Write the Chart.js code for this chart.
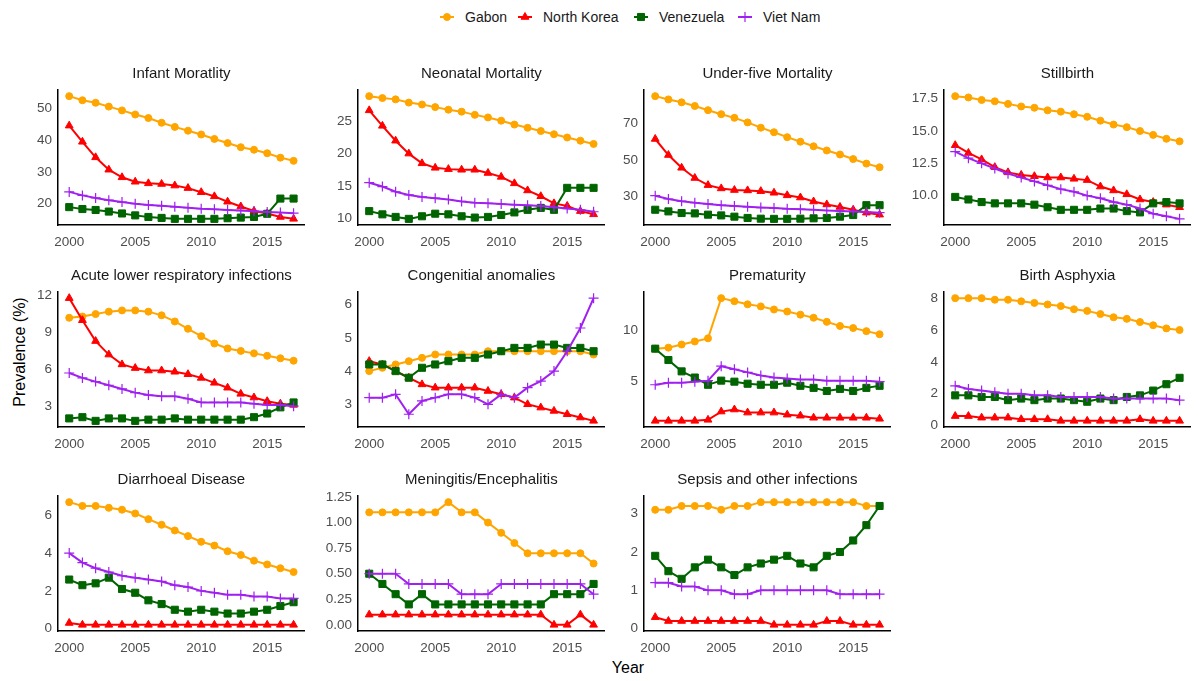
<!DOCTYPE html>
<html>
<head>
<meta charset="utf-8">
<script src="https://cdn.jsdelivr.net/npm/chart.js@4.4.0/dist/chart.umd.min.js"></script>
<style>
  body { margin: 0; width: 1198px; height: 681px; background: #fff; position: relative; overflow: hidden;
         font-family: "Liberation Sans", Arial, sans-serif; }
  .panel { position: absolute; }
  .leg-icon { position: absolute; top: 10px; }
  .leg-text { position: absolute; top: 9px; font-size: 14px; color: #1a1a1a; line-height: 16px; }
  #ylab { position: absolute; left: 20px; top: 352px; transform: translate(-50%, -50%) rotate(-90deg);
          font-size: 16px; color: #000; white-space: nowrap; }
  #xlab { position: absolute; left: 628px; top: 668px; transform: translate(-50%, -50%);
          font-size: 16px; color: #000; }
</style>
</head>
<body>
<div id="ylab">Prevalence (%)</div>
<div id="xlab">Year</div>
<script>
const years = [2000, 2001, 2002, 2003, 2004, 2005, 2006, 2007, 2008, 2009,
               2010, 2011, 2012, 2013, 2014, 2015, 2016, 2017];
const countries = ["Gabon", "North Korea", "Venezuela", "Viet Nam"];
const xTickLabels = ["2000", "2005", "2010", "2015"];

// each panel: one row per country, same order as countries
const infantMortality = [
  [53.9, 52.6, 51.8, 50.6, 49.4, 48.1, 47.0, 45.5, 44.2, 43.0, 41.8, 40.4, 39.1, 37.8, 37.0, 35.9, 34.5, 33.5],
  [44.6, 39.5, 34.6, 30.7, 28.3, 26.9, 26.4, 26.2, 25.7, 24.9, 23.6, 22.3, 20.6, 19.1, 17.7, 16.9, 15.8, 15.2],
  [18.9, 18.3, 18.0, 17.5, 16.9, 16.3, 15.8, 15.5, 15.2, 15.2, 15.2, 15.2, 15.4, 15.6, 15.8, 16.8, 21.6, 21.6],
  [23.7, 22.6, 21.8, 21.1, 20.5, 20.0, 19.6, 19.3, 19.0, 18.7, 18.4, 18.2, 18.0, 17.8, 17.6, 17.4, 17.2, 17.0]
];
const infantTicks = ["20", "30", "40", "50"];

const neonatalMortality = [
  [28.9, 28.6, 28.4, 27.9, 27.6, 27.2, 26.8, 26.5, 26.0, 25.6, 25.1, 24.5, 24.0, 23.5, 23.0, 22.5, 22.0, 21.5],
  [26.7, 24.3, 22.0, 20.0, 18.5, 17.8, 17.6, 17.5, 17.5, 17.0, 16.4, 15.4, 14.3, 13.4, 12.3, 11.9, 11.1, 10.6],
  [11.1, 10.6, 10.2, 9.9, 10.3, 10.7, 10.6, 10.3, 10.1, 10.2, 10.5, 10.9, 11.3, 11.6, 11.3, 14.7, 14.7, 14.7],
  [15.5, 14.9, 14.1, 13.6, 13.3, 13.1, 12.9, 12.6, 12.4, 12.3, 12.2, 12.1, 12.0, 11.9, 11.7, 11.5, 11.3, 11.0]
];
const neonatalTicks = ["10", "15", "20", "25"];

const underFiveMortality = [
  [85.1, 83.3, 81.7, 79.7, 77.4, 75.2, 73.2, 70.7, 67.8, 65.3, 62.6, 60.1, 57.6, 55.3, 53.1, 50.6, 48.1, 46.1],
  [61.6, 52.8, 45.8, 40.2, 36.3, 34.5, 33.6, 33.4, 33.0, 32.1, 30.7, 29.5, 27.3, 25.7, 24.3, 22.8, 21.2, 20.1],
  [22.8, 21.9, 21.0, 20.8, 20.1, 19.7, 19.0, 18.3, 17.9, 17.8, 17.8, 17.9, 18.1, 18.3, 19.0, 19.9, 25.3, 25.3],
  [30.5, 28.7, 27.5, 26.7, 26.0, 25.3, 24.8, 24.4, 24.0, 23.7, 23.3, 23.1, 22.8, 22.4, 22.1, 21.9, 21.5, 21.2]
];
const underFiveTicks = ["30", "50", "70"];

const stillbirth = [
  [17.7, 17.6, 17.4, 17.3, 17.1, 16.9, 16.8, 16.6, 16.5, 16.3, 16.1, 15.8, 15.5, 15.3, 15.0, 14.7, 14.4, 14.2],
  [13.9, 13.3, 12.8, 12.2, 11.8, 11.6, 11.5, 11.4, 11.4, 11.3, 11.2, 10.7, 10.4, 10.1, 9.7, 9.5, 9.3, 9.1],
  [9.9, 9.7, 9.5, 9.4, 9.4, 9.4, 9.3, 9.1, 8.9, 8.9, 8.9, 9.0, 9.0, 8.8, 8.7, 9.4, 9.5, 9.4],
  [13.4, 12.9, 12.5, 12.1, 11.7, 11.4, 11.1, 10.8, 10.5, 10.3, 10.0, 9.8, 9.5, 9.3, 9.0, 8.6, 8.4, 8.2]
];
const stillbirthTicks = ["10.0", "12.5", "15.0", "17.5"];

const acuteLowerResp = [
  [10.2, 10.3, 10.5, 10.7, 10.8, 10.8, 10.7, 10.4, 9.9, 9.3, 8.7, 8.1, 7.7, 7.5, 7.3, 7.1, 6.9, 6.7],
  [11.8, 10.0, 8.3, 7.2, 6.4, 6.1, 5.9, 5.9, 5.8, 5.6, 5.3, 4.9, 4.5, 4.0, 3.7, 3.4, 3.2, 3.1],
  [2.0, 2.1, 1.8, 2.0, 2.0, 1.8, 1.9, 1.9, 2.0, 1.9, 1.9, 1.9, 1.9, 1.9, 2.1, 2.4, 2.9, 3.3],
  [5.7, 5.3, 5.0, 4.7, 4.4, 4.1, 3.9, 3.8, 3.8, 3.6, 3.3, 3.3, 3.3, 3.3, 3.2, 3.1, 3.1, 3.0]
];
const acuteLowerRespTicks = ["3", "6", "9", "12"];

const congenital = [
  [4.0, 4.1, 4.2, 4.3, 4.4, 4.5, 4.5, 4.5, 4.5, 4.6, 4.6, 4.6, 4.6, 4.6, 4.6, 4.6, 4.6, 4.5],
  [4.3, 4.2, 4.0, 3.8, 3.6, 3.5, 3.5, 3.5, 3.5, 3.4, 3.3, 3.2, 3.0, 2.9, 2.8, 2.7, 2.6, 2.5],
  [4.2, 4.2, 4.0, 3.8, 4.1, 4.2, 4.3, 4.4, 4.4, 4.5, 4.6, 4.7, 4.7, 4.8, 4.8, 4.7, 4.7, 4.6],
  [3.2, 3.2, 3.3, 2.7, 3.1, 3.2, 3.3, 3.3, 3.2, 3.0, 3.3, 3.2, 3.5, 3.7, 4.0, 4.6, 5.3, 6.2]
];
const congenitalTicks = ["3", "4", "5", "6"];

const prematurity = [
  [8.2, 8.3, 8.6, 8.9, 9.2, 13.1, 12.8, 12.5, 12.3, 12.0, 11.8, 11.5, 11.2, 10.8, 10.4, 10.2, 9.9, 9.6],
  [1.2, 1.2, 1.2, 1.2, 1.3, 2.1, 2.3, 2.0, 2.0, 2.0, 1.8, 1.7, 1.5, 1.5, 1.5, 1.5, 1.5, 1.4],
  [8.2, 7.1, 6.0, 5.4, 4.7, 5.1, 5.0, 4.8, 4.7, 4.7, 4.9, 4.6, 4.4, 4.1, 4.3, 4.1, 4.4, 4.6],
  [4.7, 4.9, 4.9, 5.0, 5.1, 6.5, 6.2, 5.9, 5.6, 5.4, 5.3, 5.2, 5.2, 5.1, 5.1, 5.1, 5.1, 5.0]
];
const prematurityTicks = ["5", "10"];

const birthAsphyxia = [
  [8.0, 8.0, 8.0, 7.9, 7.9, 7.8, 7.7, 7.6, 7.5, 7.3, 7.2, 7.0, 6.8, 6.7, 6.5, 6.3, 6.1, 6.0],
  [0.6, 0.6, 0.5, 0.5, 0.5, 0.4, 0.4, 0.4, 0.3, 0.3, 0.3, 0.3, 0.3, 0.3, 0.4, 0.3, 0.3, 0.3],
  [1.9, 1.9, 1.8, 1.8, 1.6, 1.7, 1.6, 1.7, 1.7, 1.6, 1.5, 1.7, 1.6, 1.8, 1.9, 2.2, 2.6, 3.0],
  [2.5, 2.3, 2.2, 2.1, 2.0, 2.0, 1.9, 1.9, 1.8, 1.8, 1.8, 1.8, 1.7, 1.7, 1.7, 1.7, 1.7, 1.6]
];
const birthAsphyxiaTicks = ["0", "2", "4", "6", "8"];

const diarrhoeal = [
  [6.7, 6.5, 6.5, 6.4, 6.3, 6.1, 5.8, 5.5, 5.2, 4.9, 4.6, 4.4, 4.1, 3.9, 3.6, 3.4, 3.2, 3.0],
  [0.3, 0.2, 0.2, 0.2, 0.2, 0.2, 0.2, 0.2, 0.2, 0.2, 0.2, 0.2, 0.2, 0.2, 0.2, 0.2, 0.2, 0.2],
  [2.6, 2.3, 2.4, 2.7, 2.1, 1.9, 1.5, 1.3, 1.0, 0.9, 1.0, 0.9, 0.8, 0.8, 0.9, 1.0, 1.2, 1.4],
  [4.0, 3.5, 3.2, 3.0, 2.8, 2.7, 2.6, 2.5, 2.3, 2.2, 2.0, 1.9, 1.8, 1.8, 1.7, 1.7, 1.6, 1.6]
];
const diarrhoealTicks = ["0", "2", "4", "6"];

const meningitis = [
  [1.1, 1.1, 1.1, 1.1, 1.1, 1.1, 1.2, 1.1, 1.1, 1.0, 0.9, 0.8, 0.7, 0.7, 0.7, 0.7, 0.7, 0.6],
  [0.1, 0.1, 0.1, 0.1, 0.1, 0.1, 0.1, 0.1, 0.1, 0.1, 0.1, 0.1, 0.1, 0.1, 0.0, 0.0, 0.1, 0.0],
  [0.5, 0.4, 0.3, 0.2, 0.3, 0.2, 0.2, 0.2, 0.2, 0.2, 0.2, 0.2, 0.2, 0.2, 0.3, 0.3, 0.3, 0.4],
  [0.5, 0.5, 0.5, 0.4, 0.4, 0.4, 0.4, 0.3, 0.3, 0.3, 0.4, 0.4, 0.4, 0.4, 0.4, 0.4, 0.4, 0.3]
];
const meningitisTicks = ["0.00", "0.25", "0.50", "0.75", "1.00", "1.25"];

const sepsis = [
  [3.1, 3.1, 3.2, 3.2, 3.2, 3.1, 3.2, 3.2, 3.3, 3.3, 3.3, 3.3, 3.3, 3.3, 3.3, 3.3, 3.2, 3.2],
  [0.3, 0.2, 0.2, 0.2, 0.2, 0.2, 0.2, 0.2, 0.2, 0.1, 0.1, 0.1, 0.1, 0.2, 0.2, 0.1, 0.1, 0.1],
  [1.9, 1.5, 1.3, 1.6, 1.8, 1.6, 1.4, 1.6, 1.7, 1.8, 1.9, 1.7, 1.6, 1.9, 2.0, 2.3, 2.7, 3.2],
  [1.2, 1.2, 1.1, 1.1, 1.0, 1.0, 0.9, 0.9, 1.0, 1.0, 1.0, 1.0, 1.0, 1.0, 0.9, 0.9, 0.9, 0.9]
];
const sepsisTicks = ["0", "1", "2", "3"];

const panels = [
  { title: "Infant Moratlity", series: infantMortality, ticks: infantTicks },
  { title: "Neonatal Mortality", series: neonatalMortality, ticks: neonatalTicks },
  { title: "Under-five Mortality", series: underFiveMortality, ticks: underFiveTicks },
  { title: "Stillbirth", series: stillbirth, ticks: stillbirthTicks },
  { title: "Acute lower respiratory infections", series: acuteLowerResp, ticks: acuteLowerRespTicks },
  { title: "Congenitial anomalies", series: congenital, ticks: congenitalTicks },
  { title: "Prematurity", series: prematurity, ticks: prematurityTicks },
  { title: "Birth Asphyxia", series: birthAsphyxia, ticks: birthAsphyxiaTicks },
  { title: "Diarrhoeal Disease", series: diarrhoeal, ticks: diarrhoealTicks },
  { title: "Meningitis/Encephalitis", series: meningitis, ticks: meningitisTicks },
  { title: "Sepsis and other infections", series: sepsis, ticks: sepsisTicks }
];

// look
const colors = ["#FFA500", "#FF0000", "#006400", "#A020F0"];
const shapes = ["circle", "triangle", "rect", "cross"];
const radii = [3.5, 4.5, 5, 5];
const font = "'Liberation Sans', Arial, sans-serif";

// layout (px)
const plotLeft = [58, 357.5, 644, 944];
const plotTop = [90, 292, 496];
const plotW = 253, plotH = 135;
const YW = 45, TH = 25, XH = 28;

function makePanel(p, idx) {
  const col = idx % 4, row = Math.floor(idx / 4);
  const canvas = document.createElement("canvas");
  canvas.className = "panel";
  canvas.width = YW + plotW;
  canvas.height = TH + plotH + XH;
  canvas.style.left = (plotLeft[col] - YW) + "px";
  canvas.style.top = (plotTop[row] - TH) + "px";
  document.body.appendChild(canvas);

  const all = p.series.flat();
  const lo = Math.min(...all), hi = Math.max(...all);
  const pad = (hi - lo) * 0.05;
  const xPad = (years[years.length - 1] - years[0]) * 0.05;

  new Chart(canvas, {
    type: "line",
    data: {
      datasets: countries.map((c, i) => ({
        label: c,
        data: years.map((y, j) => ({ x: y, y: p.series[i][j] })),
        borderColor: colors[i],
        backgroundColor: colors[i],
        borderWidth: 2,
        pointStyle: shapes[i],
        pointRadius: radii[i],
        pointBorderWidth: i === 3 ? 1.2 : 1,
        tension: 0,
        clip: false,
        order: 4 - i
      }))
    },
    options: {
      responsive: false,
      animation: false,
      layout: { padding: 0 },
      plugins: {
        legend: { display: false },
        tooltip: { enabled: false },
        title: {
          display: true, text: p.title, color: "#1a1a1a", fullSize: false,
          font: { family: font, size: 15, weight: "normal", lineHeight: 1.2 },
          padding: { top: 0, bottom: 7 }
        }
      },
      scales: {
        x: {
          type: "linear",
          min: years[0] - xPad,
          max: years[years.length - 1] + xPad,
          grid: { display: false, drawTicks: false },
          border: { display: true, color: "#000", width: 1.5 },
          ticks: {
            color: "#4d4d4d", padding: 9,
            font: { family: font, size: 13.5 },
            callback: (v, i) => xTickLabels[i]
          },
          afterBuildTicks: s => { s.ticks = xTickLabels.map(t => ({ value: +t })); },
          afterFit: s => { s.height = XH; }
        },
        y: {
          min: lo - pad,
          max: hi + pad,
          grid: { display: false, drawTicks: false },
          border: { display: true, color: "#000", width: 1.5 },
          ticks: {
            color: "#4d4d4d", padding: 6,
            font: { family: font, size: 13.5 },
            callback: (v, i) => p.ticks[i]
          },
          afterBuildTicks: s => { s.ticks = p.ticks.map(t => ({ value: +t })); },
          afterFit: s => { s.width = YW; }
        }
      }
    }
  });
}

panels.forEach(makePanel);

// legend
const legendIconX = [447, 525, 641, 745];
countries.forEach((c, i) => {
  const icon = document.createElement("canvas");
  icon.width = 20; icon.height = 14;
  icon.className = "leg-icon";
  icon.style.left = (legendIconX[i] - 10) + "px";
  document.body.appendChild(icon);
  const ctx = icon.getContext("2d");
  ctx.strokeStyle = colors[i];
  ctx.fillStyle = colors[i];
  ctx.lineWidth = 2;
  ctx.beginPath(); ctx.moveTo(3, 7); ctx.lineTo(17, 7); ctx.stroke();
  ctx.lineWidth = i === 3 ? 1.2 : 1;
  Chart.helpers.drawPoint(ctx, { pointStyle: shapes[i], radius: radii[i], borderWidth: ctx.lineWidth, rotation: 0 }, 10, 7);

  const t = document.createElement("div");
  t.className = "leg-text";
  t.style.left = (legendIconX[i] + 18) + "px";
  t.textContent = c;
  document.body.appendChild(t);
});
</script>
</body>
</html>
